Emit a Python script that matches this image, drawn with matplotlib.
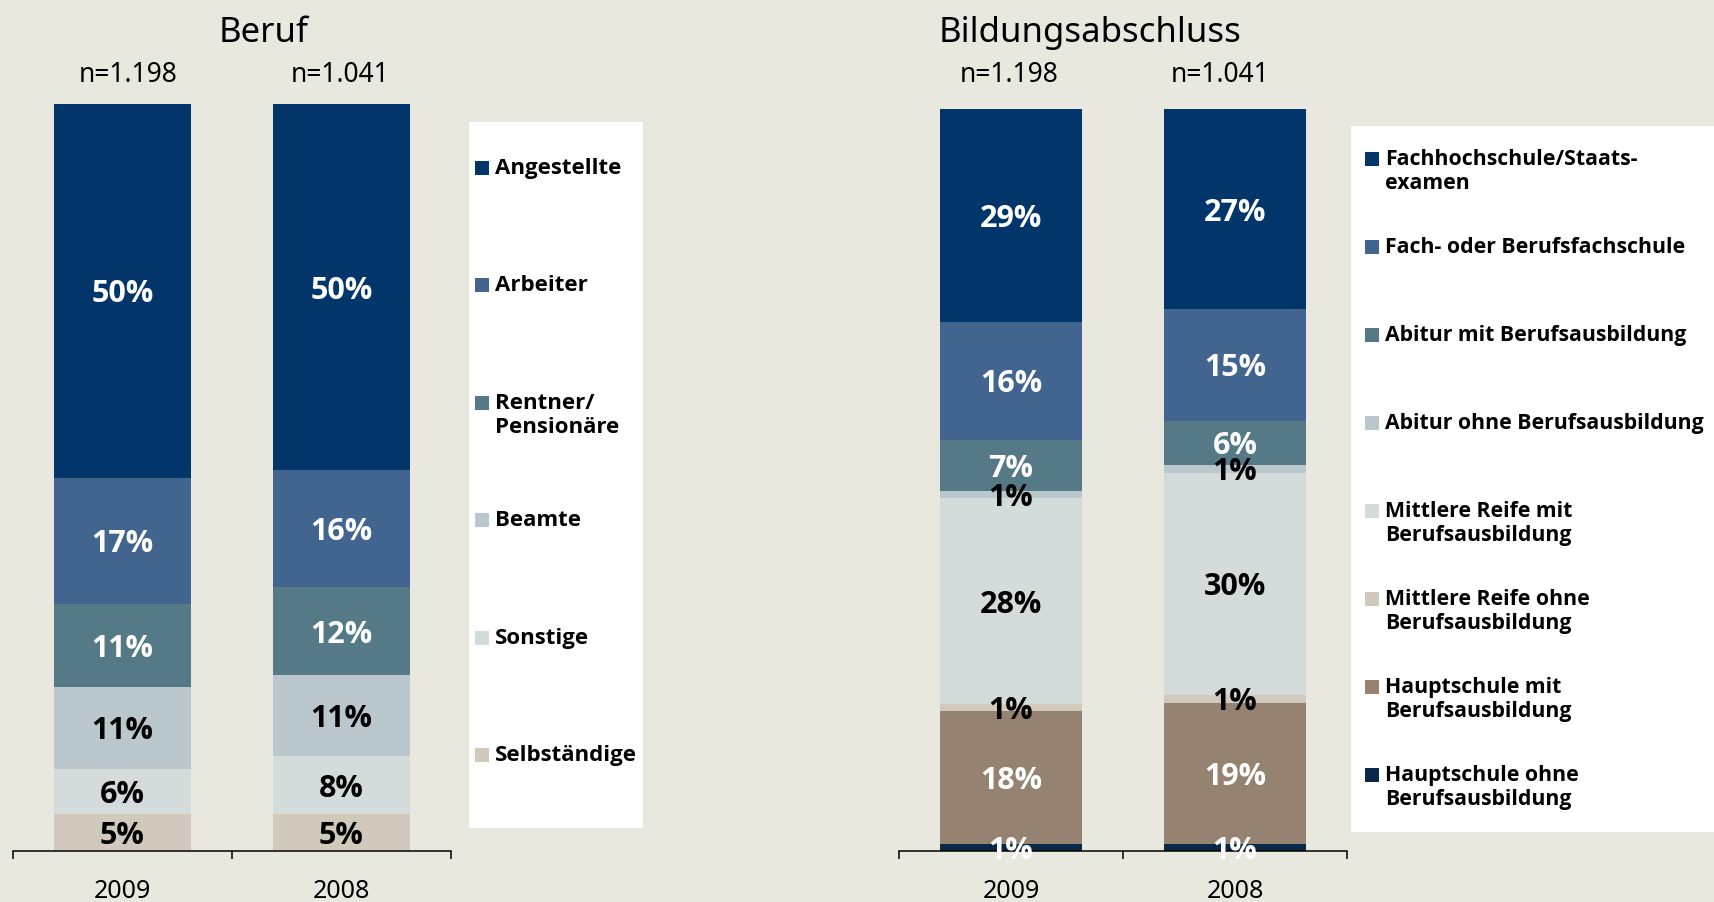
import matplotlib
matplotlib.use('Agg')
import matplotlib.pyplot as plt
from matplotlib.patches import Rectangle
from matplotlib import font_manager
import numpy as np

plt.rcParams['font.family'] = ['Noto Sans', 'DejaVu Sans']

W, H = 1715, 902
BG = '#E8E8DE'

# ---------------- data ----------------
years = ['2009', '2008']
n_labels = ['n=1.198', 'n=1.041']

beruf_title = 'Beruf'
beruf_cats = ['Angestellte', 'Arbeiter', 'Rentner/\nPensionäre', 'Beamte',
              'Sonstige', 'Selbständige']
beruf_2009 = [50, 17, 11, 11, 6, 5]
beruf_2008 = [50, 16, 12, 11, 8, 5]

bildung_title = 'Bildungsabschluss'
bildung_cats = ['Fachhochschule/Staats-\nexamen', 'Fach- oder Berufsfachschule',
                'Abitur mit Berufsausbildung', 'Abitur ohne Berufsausbildung',
                'Mittlere Reife mit\nBerufsausbildung',
                'Mittlere Reife ohne\nBerufsausbildung',
                'Hauptschule mit\nBerufsausbildung',
                'Hauptschule ohne\nBerufsausbildung']
bildung_2009 = [29, 16, 7, 1, 28, 1, 18, 1]
bildung_2008 = [27, 15, 6, 1, 30, 1, 19, 1]

# ---------------- styles ----------------
NAVY = '#02366A'
beruf_colors = [NAVY, '#41658E', '#557987', '#BAC8CE', '#D3DCDB', '#D2C9BD']
beruf_txt = ['white', 'white', 'white', 'black', 'black', 'black']
bildung_colors = [NAVY, '#41658E', '#557987', '#BAC8CE', '#D3DCDB', '#D2C9BD',
                  '#958270', '#082A48']
bildung_txt = ['white', 'white', 'white', 'black', 'black', 'black', 'white', 'white']

# pick a family that really has a bold face
BOLD_FAMILY = ['DejaVu Sans']
_names = {}
for f in font_manager.fontManager.ttflist:
    _names.setdefault(f.name, set()).add(f.weight)
for cand in ['Noto Sans', 'Open Sans', 'Roboto', 'Lato', 'Inter']:
    ws = _names.get(cand, set())
    if any((isinstance(w, int) and w >= 700) or w == 'bold' for w in ws):
        BOLD_FAMILY = [cand, 'DejaVu Sans']
        break

fig = plt.figure(figsize=(W / 100, H / 100), dpi=100, facecolor=BG)


def fx(x):
    return x / W


def fy(y):
    return 1 - y / H


def draw_panel(x0, x1, ytop, ybot, cats, series, colors, txtcolors):
    ax = fig.add_axes([fx(x0), fy(ybot), (x1 - x0) / W, (ybot - ytop) / H])
    ax.set_facecolor('none')
    xs = np.arange(len(series))
    for j, vals in enumerate(series):
        vals = np.asarray(vals, dtype=float)
        shares = vals / vals.sum() * 100
        bottom = 0.0
        for k in range(len(vals) - 1, -1, -1):
            ax.bar(xs[j], shares[k], bottom=bottom, width=0.63,
                   color=colors[k], linewidth=0)
            ax.text(xs[j], bottom + shares[k] / 2, f'{int(vals[k])}%',
                    ha='center', va='center_baseline', fontsize=22,
                    fontweight='bold', family=BOLD_FAMILY, color=txtcolors[k])
            bottom += shares[k]
    ax.set_xlim(-0.5, len(series) - 0.5)
    ax.set_ylim(0, 100)
    for s in ['left', 'right', 'top']:
        ax.spines[s].set_visible(False)
    ax.spines['bottom'].set_linewidth(1.1)
    ax.spines['bottom'].set_color('black')
    ax.set_yticks([])
    ax.set_xticks(np.arange(len(series) + 1) - 0.5)
    ax.set_xticklabels([])
    ax.tick_params(axis='x', which='major', length=6, width=1.1, direction='out')
    ax.set_xticks(xs, minor=True)
    ax.set_xticklabels(years, minor=True, fontsize=18)
    ax.tick_params(axis='x', which='minor', length=0, pad=20)
    return ax


draw_panel(13, 451, 104, 851, beruf_cats, [beruf_2009, beruf_2008],
           beruf_colors, beruf_txt)
draw_panel(899, 1347, 109, 851, bildung_cats, [bildung_2009, bildung_2008],
           bildung_colors, bildung_txt)

# titles and n labels
fig.text(fx(264), fy(42), beruf_title, ha='center', va='baseline', fontsize=25)
fig.text(fx(1090), fy(42), bildung_title, ha='center', va='baseline', fontsize=25)
for xc, lab in zip([128, 340], n_labels):
    fig.text(fx(xc), fy(82), lab, ha='center', va='baseline', fontsize=19)
for xc, lab in zip([1009, 1220], n_labels):
    fig.text(fx(xc), fy(82), lab, ha='center', va='baseline', fontsize=19)


def draw_legend(bx0, bx1, by0, by1, sq_x, tx, y0, step, cats, colors, fs):
    fig.add_artist(Rectangle((fx(bx0), fy(by1)), (bx1 - bx0) / W, (by1 - by0) / H,
                             transform=fig.transFigure, facecolor='white',
                             edgecolor='none', zorder=1))
    for i, (c, col) in enumerate(zip(cats, colors)):
        yc = y0 + i * step
        fig.add_artist(Rectangle((fx(sq_x), fy(yc + 7)), 14 / W, 14 / H,
                                 transform=fig.transFigure, facecolor=col,
                                 edgecolor='none', zorder=2))
        fig.text(fx(tx), fy(yc - 10), c, ha='left', va='top', fontsize=fs,
                 fontweight='bold', family=BOLD_FAMILY, color='black',
                 linespacing=1.2, zorder=3)


draw_legend(469, 643, 122, 828, 475, 495, 168, 117.4, beruf_cats, beruf_colors, 16)
draw_legend(1351, 1715, 126, 832, 1365, 1385, 159, 88, bildung_cats,
            bildung_colors, 15.3)

fig.savefig('out.png', dpi=100, facecolor=BG)
